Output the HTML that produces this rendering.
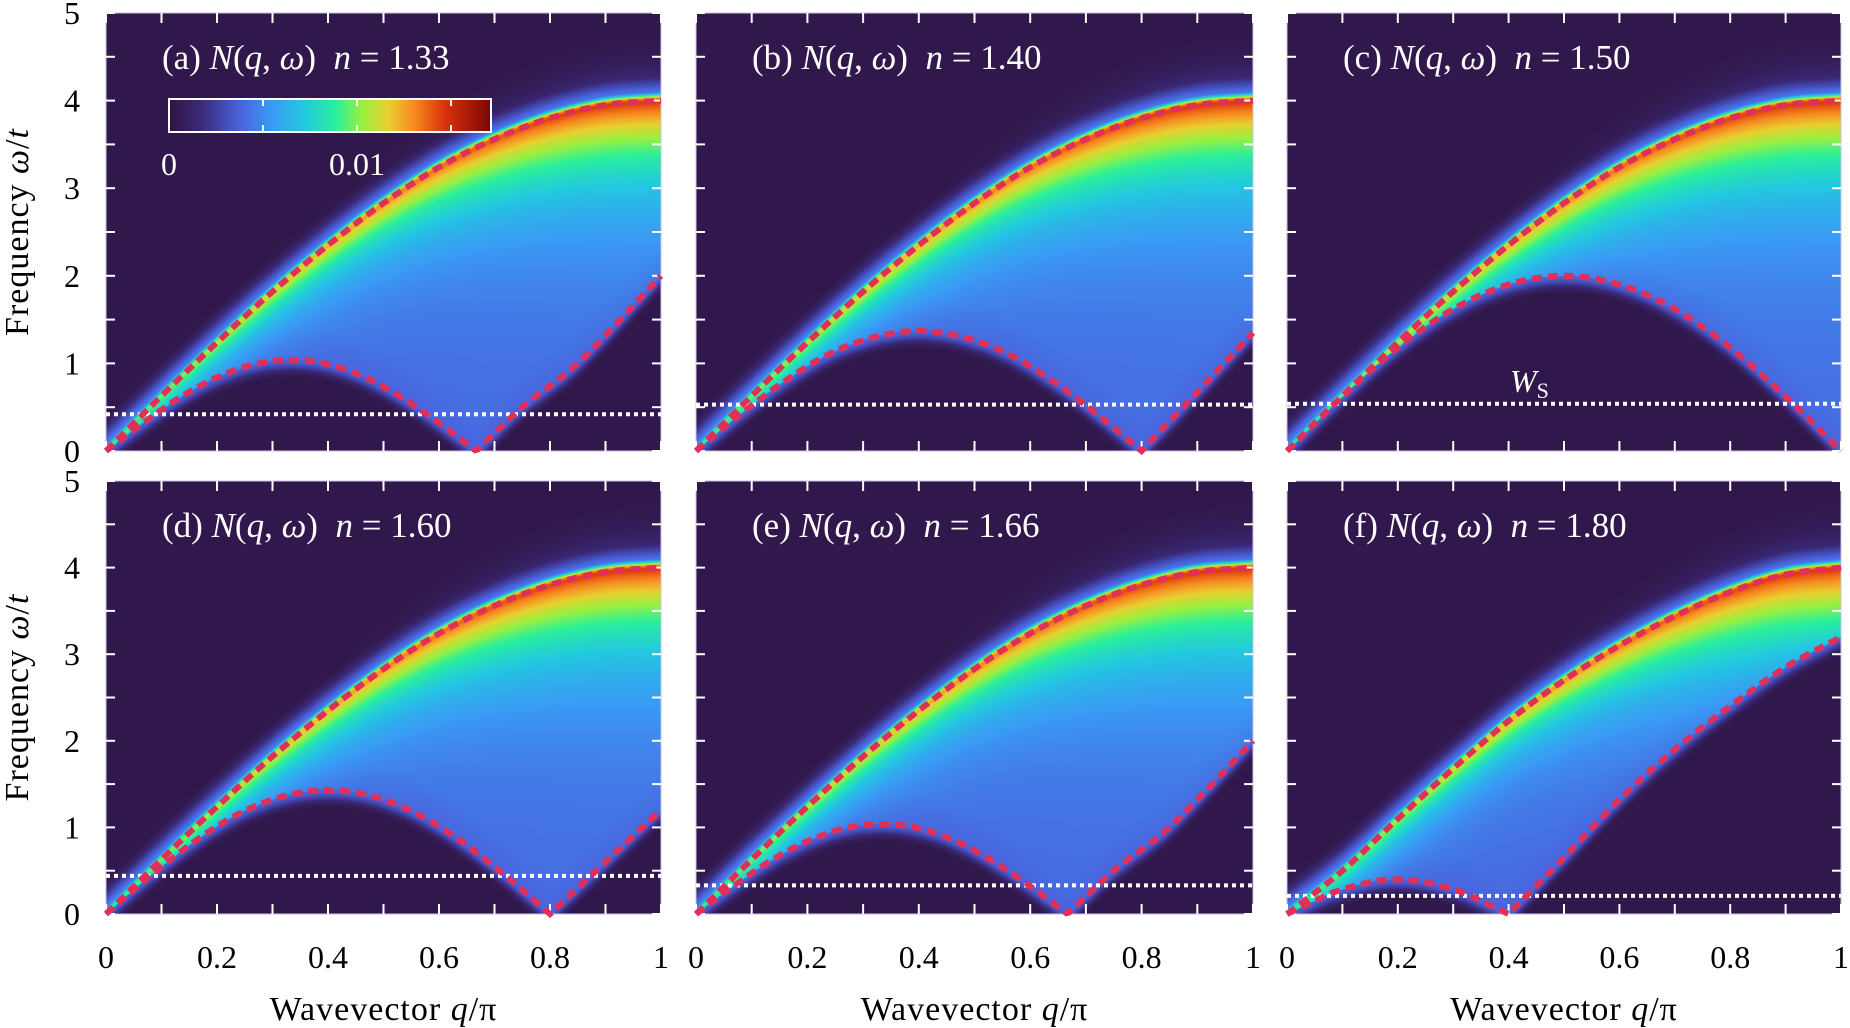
<!DOCTYPE html>
<html><head><meta charset="utf-8">
<style>
html,body{margin:0;padding:0;background:#fff;}
#wrap{position:relative;width:1850px;height:1028px;overflow:hidden;}
canvas{position:absolute;}
svg{position:absolute;left:0;top:0;}
text{font-family:"Liberation Serif","DejaVu Serif",serif;}
</style></head>
<body>
<div id="wrap">
<svg id="ov" width="1850" height="1028"></svg>
</div>
<script>
// ---- data ----
const panelLabels = ["(a)","(b)","(c)","(d)","(e)","(f)"];
const fillings = ["1.33","1.40","1.50","1.60","1.66","1.80"];
const upperQ = [0,0.1,0.2,0.3,0.4,0.5,0.6,0.7,0.8,0.9,1];
const upperA = [0,0.63,1.24,1.82,2.35,2.83,3.24,3.56,3.80,3.95,4.0];
const upperF = [0,0.5,1.1,1.68,2.23,2.7,3.1,3.44,3.72,3.92,4.0];
const lowerQa = [0,0.067,0.133,0.2,0.267,0.333,0.4,0.467,0.533,0.6,0.667,0.75,0.85,1];
const lowerWa = [0,0.32,0.61,0.84,0.99,1.04,0.99,0.84,0.61,0.32,0,0.5,1.0,2.0];
const lowerQb = [0,0.08,0.16,0.24,0.32,0.4,0.48,0.56,0.64,0.72,0.8,0.9,1];
const lowerWb = [0,0.42,0.8,1.11,1.30,1.37,1.30,1.11,0.8,0.42,0,0.67,1.35];
const lowerQc = [0,0.1,0.2,0.3,0.4,0.5,0.6,0.7,0.8,0.9,1];
const lowerWc = [0,0.62,1.18,1.62,1.9,2.0,1.9,1.62,1.18,0.62,0];
const lowerWd = [0,0.44,0.84,1.16,1.36,1.43,1.36,1.16,0.84,0.44,0,0.6,1.2];
const lowerQf = [0,0.04,0.08,0.12,0.16,0.2,0.24,0.28,0.32,0.36,0.4,0.5,0.6,0.7,0.8,0.9,1];
const lowerWf = [0,0.12,0.24,0.32,0.38,0.4,0.38,0.32,0.24,0.12,0,0.65,1.32,1.9,2.4,2.85,3.2];
const wsValues = [0.42,0.53,0.54,0.44,0.33,0.21];
const xTicks = ["0","0.2","0.4","0.6","0.8","1"];
const yTicks = ["0","1","2","3","4","5"];

const uppers = [upperA,upperA,upperA,upperA,upperA,upperF];
const lowersQ = [lowerQa,lowerQb,lowerQc,lowerQb,lowerQa,lowerQf];
const lowersW = [lowerWa,lowerWb,lowerWc,lowerWd,lowerWa,lowerWf];

const colsX = [[106,661],[696,1253],[1287,1841]];
const rowsY = [[13,451],[481,914]];
const NS = "http://www.w3.org/2000/svg";
const ov = document.getElementById('ov');
const wrap = document.getElementById('wrap');

function smooth(xs, ys, x){
  const n=xs.length;
  if (x<=xs[0]) return ys[0];
  if (x>=xs[n-1]) return ys[n-1];
  let i=1; while(i<n-1 && x>xs[i]) i++;
  const a=i-1,b=i;
  const isBreak=k=>k>0&&k<n-1&&ys[k]===0;
  const pa = (a>0 && !isBreak(a)) ? a-1 : a;
  const pb = (b<n-1 && !isBreak(b)) ? b+1 : b;
  const t=(x-xs[a])/(xs[b]-xs[a]);
  const h=xs[b]-xs[a];
  const m0 = (ys[b]-ys[pa])/(xs[b]-xs[pa]) * h;
  const m1 = (ys[pb]-ys[a])/(xs[pb]-xs[a]) * h;
  const t2=t*t,t3=t2*t;
  return (2*t3-3*t2+1)*ys[a]+(t3-2*t2+t)*m0+(-2*t3+3*t2)*ys[b]+(t3-t2)*m1;
}
const cmap = [[0,[47,20,65]],[0.1,[58,42,122]],[0.22,[74,98,220]],[0.32,[58,154,245]],[0.42,[34,201,224]],[0.52,[42,240,154]],[0.6,[154,240,64]],[0.68,[232,208,48]],[0.76,[248,138,32]],[0.86,[216,48,10]],[1,[122,5,5]]];
function col(v){
  v=Math.max(0,Math.min(1,v));
  for(let i=1;i<cmap.length;i++){ if(v<=cmap[i][0]){ const a=cmap[i-1],b=cmap[i],t=(v-a[0])/(b[0]-a[0]); return [0,1,2].map(k=>a[1][k]+t*(b[1][k]-a[1][k])); } }
  return cmap[cmap.length-1][1];
}
function mk(tag, attrs, parent){ const e=document.createElementNS(NS,tag); for(const k in attrs) e.setAttribute(k,attrs[k]); (parent||ov).appendChild(e); return e; }

for (let p=0;p<6;p++){
  const c=p%3, r=Math.floor(p/3);
  const x0=colsX[c][0], x1=colsX[c][1], y0=rowsY[r][0], y1=rowsY[r][1];
  const W=x1-x0, H=y1-y0;
  const sx=q=>x0+q*W, sy=w=>y1-w/5*H;
  const cv=document.createElement('canvas');
  cv.width=W; cv.height=H; cv.style.left=x0+'px'; cv.style.top=y0+'px';
  
  
  wrap.insertBefore(cv, ov);
  const ctx=cv.getContext('2d'); const img=ctx.createImageData(W,H);
  for(let i=0;i<W;i++){
    const q=(i+0.5)/W;
    const U=smooth(upperQ,uppers[p],q), L=Math.max(0,smooth(lowersQ[p],lowersW[p],q));
    const u4=U/4;
    const peak=0.3+0.32*u4;
    const dec=0.28+0.5*u4*u4*u4;
    const edge=0.22+peak;
    for(let j=0;j<H;j++){
      const w=(H-j-0.5)/H*5;
      let v;
      if(w>U){ const d=w-U; v=edge*Math.exp(-Math.pow(d/0.09,2)); v=Math.max(v,(0.3)*Math.exp(-Math.pow(d/0.25,2))); v=Math.max(v,0.22*Math.exp(-d/0.3)*u4*u4); }
      else if(w<L){ v=0.22*Math.exp(-Math.pow((L-w)/0.13,2)); }
      else { v=0.22+peak*Math.exp(-(U-w)/dec) + 0.02*Math.min(1,(w-L)/0.4); }
      v=Math.max(v,0.02);
      const cc=col(v), k=(j*W+i)*4;
      img.data[k]=cc[0];img.data[k+1]=cc[1];img.data[k+2]=cc[2];img.data[k+3]=255;
    }
  }
  ctx.putImageData(img,0,0);
  const g=mk('g',{});
  mk('rect',{x:x0,y:y0,width:W,height:H,fill:'none',stroke:'#c8c0e0','stroke-width':1,},g);
  for(let k=0;k<=10;k++){
    const x=sx(k/10);
    mk('line',{x1:x,y1:y0,x2:x,y2:y0+10,stroke:'#fff','stroke-width':2,},g);
    mk('line',{x1:x,y1:y1,x2:x,y2:y1-10,stroke:'#fff','stroke-width':2,},g);
  }
  for(let k=0;k<=10;k++){
    const y=sy(k/2);
    mk('line',{x1:x0,y1:y,x2:x0+9,y2:y,stroke:'#fff','stroke-width':2,},g);
    mk('line',{x1:x1,y1:y,x2:x1-9,y2:y,stroke:'#fff','stroke-width':2,},g);
  }
  mk('line',{x1:x0,y1:sy(wsValues[p]),x2:x1,y2:sy(wsValues[p]),stroke:'#fff','stroke-width':4,'stroke-dasharray':'4 4',},g);
  let up=[], lo=[];
  for(let k=0;k<=200;k++){ const q=k/200; up.push(sx(q)+','+sy(smooth(upperQ,uppers[p],q))); lo.push(sx(q)+','+sy(Math.max(0,smooth(lowersQ[p],lowersW[p],q)))); }
  mk('polyline',{points:up.join(' '),fill:'none',stroke:'#e0305a','stroke-width':6,'stroke-dasharray':'10 6',},g);
  mk('polyline',{points:lo.join(' '),fill:'none',stroke:'#e0305a','stroke-width':6,'stroke-dasharray':'10 6',},g);
  const t=mk('text',{x:x0+56,y:y0+56,fill:'#fff','font-size':35,},g);
  t.innerHTML=panelLabels[p]+'&#160;<tspan font-style="italic">N</tspan>(<tspan font-style="italic">q</tspan>, <tspan font-style="italic">ω</tspan>)&#160;&#160;<tspan font-style="italic">n</tspan>&#160;=&#160;'+fillings[p];
  if(r===1){
    xTicks.forEach((s,k)=>{ const tt=mk('text',{x:sx(k*0.2),y:968,'text-anchor':'middle','font-size':32,fill:'#000',},g); tt.textContent=s; });
    const xl=mk('text',{x:(x0+x1)/2,y:1020,'text-anchor':'middle','font-size':34,'letter-spacing':1,fill:'#000',},g);
    xl.innerHTML='Wavevector&#160;<tspan font-style="italic">q</tspan>/π';
  }
  if(c===0){
    yTicks.forEach((s,k)=>{ const tt=mk('text',{x:80,y:sy(k)+11,'text-anchor':'end','font-size':32,fill:'#000',},g); tt.textContent=s; });
    const cy=(y0+y1)/2;
    const yl=mk('text',{x:0,y:0,transform:'translate(28,'+cy+') rotate(-90)','text-anchor':'middle','font-size':34,'letter-spacing':1,fill:'#000',},g);
    yl.innerHTML='Frequency&#160;<tspan font-style="italic">ω</tspan>/<tspan font-style="italic">t</tspan>';
  }
  if(p===2){
    const ws=mk('text',{x:1510,y:392,fill:'#fff','font-size':32,},g);
    ws.innerHTML='<tspan font-style="italic">W</tspan><tspan font-size="22" dy="6">S</tspan>';
  }
}
const defs=mk('defs',{});
const lg=mk('linearGradient',{id:'cb',x1:0,x2:1,y1:0,y2:0},defs);
cmap.forEach(s=>{ const cc=s[1]; mk('stop',{offset:s[0],'stop-color':'rgb('+cc.map(Math.round).join(',')+')'},lg); });
const cbg=mk('g',{});
mk('rect',{x:169,y:99,width:322,height:33,fill:'url(#cb)',stroke:'#fff','stroke-width':2,},cbg);
[263,357,451].forEach(x=>{
  mk('line',{x1:x,y1:99,x2:x,y2:106,stroke:'#fff','stroke-width':2,},cbg);
  mk('line',{x1:x,y1:132,x2:x,y2:125,stroke:'#fff','stroke-width':2,},cbg);
});
const c0=mk('text',{x:169,y:175,'text-anchor':'middle','font-size':32,fill:'#fff',},cbg); c0.textContent='0';
const c1=mk('text',{x:357,y:175,'text-anchor':'middle','font-size':32,fill:'#fff',},cbg); c1.textContent='0.01';
</script>
</body></html>
